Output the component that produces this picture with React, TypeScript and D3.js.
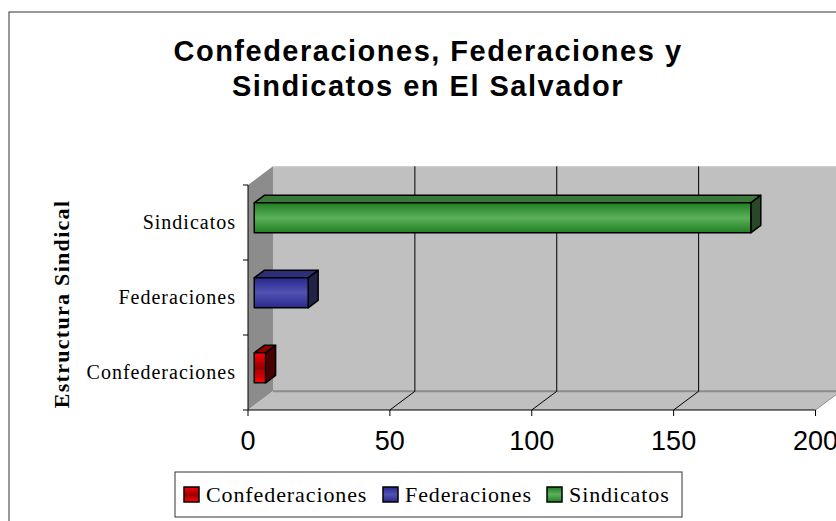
import * as d3 from 'd3'

const categories = ['Confederaciones', 'Federaciones', 'Sindicatos']
const values = [4, 19, 175]
const xTicks = [0, 50, 100, 150, 200]
const titleLines = ['Confederaciones, Federaciones y', 'Sindicatos en El Salvador']
const yTitle = 'Estructura Sindical'

const W = 836, H = 521
const depth = { dx: 25, dy: -18.7 }

const colors = {
  Confederaciones: { lo: '#ff0000', mid: '#9a0000', top: '#8c0000', side: '#4a0000' },
  Federaciones: { lo: '#28288c', mid: '#5252b4', top: '#2e2e78', side: '#222248' },
  Sindicatos: { lo: '#1f7f1f', mid: '#5cb05c', top: '#3a783a', side: '#284828' },
}

const x = d3.scaleLinear().domain([0, 200]).range([248, 815.5])
// categories drawn bottom to top
const y = d3.scaleBand().domain(categories.slice().reverse()).range([185, 410]).paddingInner(0)

const pts = (p: [number, number][]) => p.map(d => d.join(',')).join(' ')
const shift = (p: [number, number], f: number): [number, number] => [p[0] + depth.dx * f, p[1] + depth.dy * f]

export default function App() {
  const x0 = x(0), x1 = x(200)
  const yTop = 185, yBot = 410
  const barFront = 0.25, barBack = 0.65
  const barH = y.bandwidth() * 0.4

  return (
    <svg width={W} height={H} style={{ position: 'absolute', left: 0, top: 0, background: '#fff' }}>
      <defs>
        {categories.map((c, i) => {
          const col = colors[c as keyof typeof colors]
          return (
            <linearGradient key={c} id={`g${i}`} x1='0' y1='0' x2='0' y2='1'>
              <stop offset='0' stopColor={col.lo} />
              <stop offset='0.5' stopColor={col.mid} />
              <stop offset='1' stopColor={col.lo} />
            </linearGradient>
          )
        })}
      </defs>

      <rect x={9} y={12} width={W} height={H} fill='none' stroke='#333' strokeWidth={1} />

      {titleLines.map((t, i) => (
        <text key={t} x={428} y={61 + i * 35} textAnchor='middle'
          style={{ fontFamily: 'Liberation Sans, Arial, sans-serif', fontWeight: 'bold', fontSize: 29, letterSpacing: 1.5 }}>{t}</text>
      ))}

      {/* back wall */}
      <polygon points={pts([shift([x0, yTop], 1), shift([x1, yTop], 1), shift([x1, yBot], 1), shift([x0, yBot], 1)])}
        fill='#c0c0c0' />
      {/* left wall */}
      <polygon points={pts([[x0, yTop], shift([x0, yTop], 1), shift([x0, yBot], 1), [x0, yBot]])} fill='#8c8c8c' />
      {/* floor */}
      <polygon points={pts([[x0, yBot], shift([x0, yBot], 1), shift([x1, yBot], 1), [x1, yBot]])} fill='#c0c0c0' />
      <line x1={shift([x0, yBot], 1)[0]} y1={shift([x0, yBot], 1)[1]} x2={shift([x1, yBot], 1)[0]} y2={shift([x1, yBot], 1)[1]}
        stroke='#8c8c8c' strokeWidth={2} />
      <line x1={x1} y1={yBot} x2={shift([x1, yBot], 1)[0]} y2={shift([x1, yBot], 1)[1]} stroke='#8c8c8c' strokeWidth={1} />

      {/* grid lines */}
      {xTicks.filter(t => t > 0 && t < 200).map(t => {
        const b = shift([x(t), yBot], 1), tp = shift([x(t), yTop], 1)
        return (
          <g key={t}>
            <line x1={tp[0]} y1={tp[1]} x2={b[0]} y2={b[1]} stroke='#000' strokeWidth={1} />
            <line x1={b[0]} y1={b[1]} x2={x(t)} y2={yBot} stroke='#000' strokeWidth={1} />
          </g>
        )
      })}

      {/* axes */}
      <line x1={x0} y1={yTop} x2={x0} y2={yBot} stroke='#000' strokeWidth={1} />
      <line x1={x0} y1={yBot} x2={x1} y2={yBot} stroke='#000' strokeWidth={1} />
      {[yTop, ...categories.map(c => (y(c) as number) + y.bandwidth())].map((v, i) => (
        <line key={i} x1={x0 - 5} y1={v} x2={x0} y2={v} stroke='#000' />
      ))}
      {xTicks.map(t => (
        <g key={t}>
          <line x1={x(t)} y1={yBot} x2={x(t)} y2={yBot + 6} stroke='#000' />
          <text x={x(t)} y={450} textAnchor='middle'
            style={{ fontFamily: 'Liberation Sans, Arial, sans-serif', fontSize: 27 }}>{t}</text>
        </g>
      ))}

      {/* bars */}
      {categories.map((c, i) => {
        const col = colors[c as keyof typeof colors]
        const cy = (y(c) as number) + y.bandwidth() / 2
        const a: [number, number] = shift([x(0), cy - barH / 2], barFront)
        const b: [number, number] = shift([x(values[i]), cy - barH / 2], barFront)
        const bb: [number, number] = shift([x(values[i]), cy + barH / 2], barFront)
        const ab: [number, number] = shift([x(0), cy + barH / 2], barFront)
        const f = barBack - barFront
        return (
          <g key={c} stroke='#000' strokeWidth={1.5} strokeLinejoin='round'>
            <polygon points={pts([a, shift(a, f), shift(b, f), b])} fill={col.top} />
            <polygon points={pts([b, shift(b, f), shift(bb, f), bb])} fill={col.side} />
            <polygon points={pts([a, b, bb, ab])} fill={`url(#g${i})`} />
          </g>
        )
      })}

      {/* category labels */}
      {categories.map(c => (
        <text key={c} x={236} y={(y(c) as number) + y.bandwidth() / 2 + 6} textAnchor='end'
          style={{ fontFamily: 'Liberation Serif, serif', fontSize: 20, letterSpacing: 1 }}>{c}</text>
      ))}
      <text transform={`translate(69,304) rotate(-90)`} textAnchor='middle'
        style={{ fontFamily: 'Liberation Serif, serif', fontWeight: 'bold', fontSize: 22, letterSpacing: 1.3 }}>{yTitle}</text>

      {/* legend */}
      <rect x={175} y={472} width={507} height={45} fill='#fff' stroke='#333' strokeWidth={1} />
      {(() => {
        const starts = [184, 383, 547]
        return categories.map((c, i) => (
          <g key={c}>
            <rect x={starts[i]} y={487} width={15} height={15} fill={`url(#g${i})`} stroke='#000' strokeWidth={1.5} />
            <text x={starts[i] + 22} y={502}
              style={{ fontFamily: 'Liberation Serif, serif', fontSize: 22, letterSpacing: 0.9 }}>{c}</text>
          </g>
        ))
      })()}
    </svg>
  )
}
